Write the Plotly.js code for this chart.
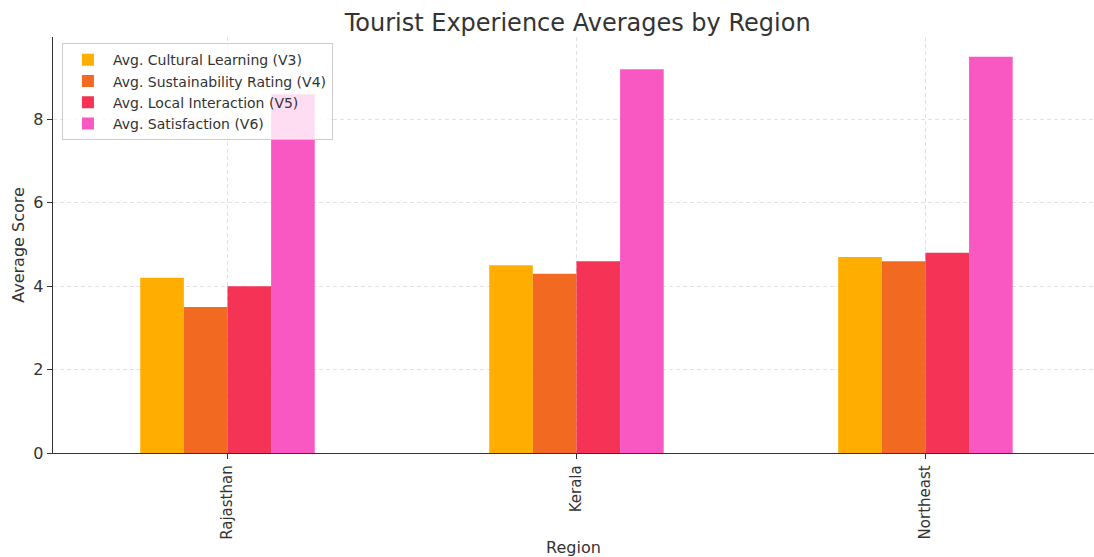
<!DOCTYPE html>
<html>
<head>
<meta charset="utf-8">
<script src="https://cdn.plot.ly/plotly-3.0.1.min.js"></script>
<style>html,body{margin:0;padding:0;background:#fff;}#chart{width:1094px;height:557px;}</style>
</head>
<body>
<div id="chart"></div>
<script>
const regions = ["Rajasthan", "Kerala", "Northeast"];
const seriesNames = [
  "Avg. Cultural Learning (V3)",
  "Avg. Sustainability Rating (V4)",
  "Avg. Local Interaction (V5)",
  "Avg. Satisfaction (V6)"
];
const culturalLearning = [4.2, 4.5, 4.7];
const sustainabilityRating = [3.5, 4.3, 4.6];
const localInteraction = [4.0, 4.6, 4.8];
const satisfaction = [8.6, 9.2, 9.5];
const colors = ["#FFAE00", "#F26A22", "#F53356", "#F958C3"];

const seriesValues = [culturalLearning, sustainabilityRating, localInteraction, satisfaction];
const traces = seriesValues.map((vals, i) => ({
  type: "bar",
  name: seriesNames[i],
  x: regions,
  y: vals,
  marker: {color: colors[i], line: {width: 0}},
  hoverinfo: "x+y+name"
}));

const F = "DejaVu Sans, sans-serif";
const layout = {
  width: 1094, height: 557,
  margin: {l: 53, r: 0, t: 37, b: 104},
  paper_bgcolor: "#fff", plot_bgcolor: "#fff",
  barmode: "group", bargap: 0.5, bargroupgap: 0,
  title: {text: "Tourist Experience Averages by Region", font: {family: F, size: 24, color: "#333"}, x: 0.528, xanchor: "center", y: 0.96, yanchor: "middle"},
  xaxis: {
    type: "category", range: [-0.5, 2.483],
    title: {text: "Region", font: {family: F, size: 16, color: "#333"}, standoff: 8},
    tickangle: -90, tickfont: {family: F, size: 15, color: "#333"},
    ticks: "outside", ticklen: 5, tickcolor: "#333",
    showline: true, linecolor: "#333", linewidth: 1.3,
    showgrid: true, gridcolor: "#d9d9d9", griddash: "4px,3px", gridwidth: 0.8,
    zeroline: false
  },
  yaxis: {
    range: [0, 9.975], dtick: 2,
    title: {text: "Average Score", font: {family: F, size: 16, color: "#333"}, standoff: 4},
    tickfont: {family: F, size: 16, color: "#333"},
    ticks: "outside", ticklen: 5, tickcolor: "#333",
    showline: true, linecolor: "#333", linewidth: 1.3,
    showgrid: true, gridcolor: "#d9d9d9", griddash: "4px,3px", gridwidth: 0.8,
    zeroline: false
  },
  legend: {
    x: 0.0086, y: 0.985, xanchor: "left", yanchor: "top",
    bgcolor: "rgba(255,255,255,0.8)", bordercolor: "#cccccc", borderwidth: 1,
    font: {family: F, size: 14, color: "#333"},
    tracegroupgap: 0, itemwidth: 40
  },
  showlegend: true
};

Plotly.newPlot("chart", traces, layout, {displayModeBar: false, staticPlot: true});
</script>
</body>
</html>
